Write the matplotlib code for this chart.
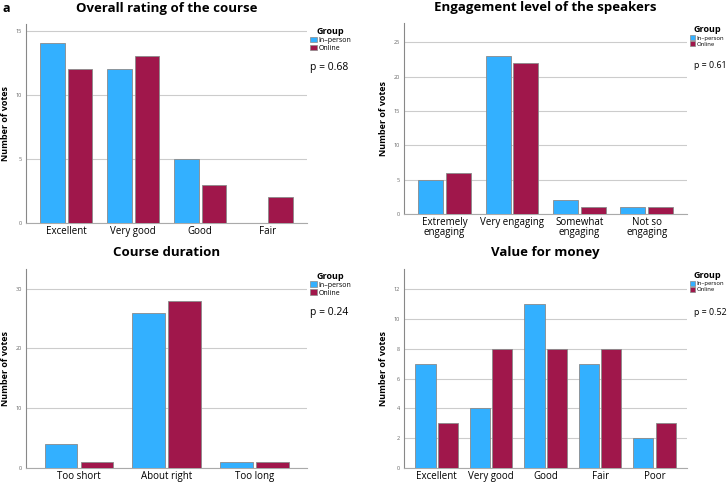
import numpy as np
import matplotlib.pyplot as plt
from matplotlib.patches import Patch

plt.rcParams['font.family'] = ['Open Sans', 'DejaVu Sans']

BLUE = '#33b0ff'
MAROON = '#a0174b'
EDGE = '#8a8a8a'

# Overall rating of the course
rating_cats = ['Excellent', 'Very good', 'Good', 'Fair']
rating_inperson = [14, 12, 5, 0]
rating_online = [12, 13, 3, 2]

# Engagement level of the speakers
engage_cats = ['Extremely\nengaging', 'Very engaging', 'Somewhat\nengaging', 'Not so\nengaging']
engage_inperson = [5, 23, 2, 1]
engage_online = [6, 22, 1, 1]

# Course duration
duration_cats = ['Too short', 'About right', 'Too long']
duration_inperson = [4, 26, 1]
duration_online = [1, 28, 1]

# Value for money
value_cats = ['Excellent', 'Very good', 'Good', 'Fair', 'Poor']
value_inperson = [7, 4, 11, 7, 2]
value_online = [3, 8, 8, 8, 3]

# title, categories, in-person, online, yticks, ymax, p-value, axes rect, side-text scale
panels = [
    ('Overall rating of the course', rating_cats, rating_inperson, rating_online,
     [0, 5, 10, 15], 15.5, 'p = 0.68', [0.036, 0.537, 0.386, 0.413], 1.0),
    ('Engagement level of the speakers', engage_cats, engage_inperson, engage_online,
     [0, 5, 10, 15, 20, 25], 27.8, 'p = 0.61', [0.555, 0.556, 0.389, 0.396], 0.85),
    ('Course duration', duration_cats, duration_inperson, duration_online,
     [0, 10, 20, 30], 33.3, 'p = 0.24', [0.036, 0.029, 0.386, 0.413], 1.0),
    ('Value for money', value_cats, value_inperson, value_online,
     [0, 2, 4, 6, 8, 10, 12], 13.35, 'p = 0.52', [0.555, 0.029, 0.389, 0.413], 0.85),
]

fig = plt.figure(figsize=(7.28, 4.82), dpi=100)
fig.text(0.003, 0.995, 'a', fontsize=9, fontweight='bold', ha='left', va='top')

w = 0.37
gap = 0.04
for title, cats, inp, onl, ticks, ytop, ptxt, pos, sc in panels:
    ax = fig.add_axes(pos)
    x = np.arange(len(cats))
    ax.bar(x - (w + gap) / 2, inp, w, color=BLUE, edgecolor=EDGE, linewidth=0.6, zorder=3)
    ax.bar(x + (w + gap) / 2, onl, w, color=MAROON, edgecolor=EDGE, linewidth=0.6, zorder=3)
    n = len(cats)
    ax.set_xlim(-0.6, n - 0.4)
    ax.set_ylim(0, ytop)
    ax.set_yticks(ticks)
    ax.set_yticklabels([str(t) for t in ticks], fontsize=4, color='#666666')
    ax.set_xticks(x)
    ax.set_xticklabels(cats, fontsize=7, linespacing=0.95)
    ax.tick_params(axis='x', length=0, pad=2)
    ax.tick_params(axis='y', length=0, pad=3)
    ax.yaxis.grid(True, color='#cccccc', linewidth=0.8, zorder=0)
    for s in ['top', 'right']:
        ax.spines[s].set_visible(False)
    ax.spines['left'].set_color('#888888')
    ax.spines['bottom'].set_color('#aaaaaa')
    ax.set_ylabel('Number of votes', fontsize=6.5, fontweight='bold', labelpad=4)
    ax.set_title(title, fontsize=9.5, fontweight='bold', pad=9)
    handles = [Patch(facecolor=BLUE, edgecolor=EDGE, linewidth=0.5, label='In\u2013person'),
               Patch(facecolor=MAROON, edgecolor=EDGE, linewidth=0.5, label='Online')]
    leg = ax.legend(handles=handles, title='Group', loc='upper left',
                    bbox_to_anchor=(1.0, 1.0), frameon=False, fontsize=5 * sc,
                    title_fontsize=6.5, handlelength=1.0, handleheight=0.9,
                    handletextpad=0.2, labelspacing=0.1, borderaxespad=0.2,
                    borderpad=0.2)
    leg.get_title().set_fontweight('bold')
    ax.text(1.01 if sc == 1.0 else 1.025, 0.78, ptxt, transform=ax.transAxes,
            fontsize=7.5 * sc, ha='left', va='center')

fig.savefig('out.png', dpi=100)
